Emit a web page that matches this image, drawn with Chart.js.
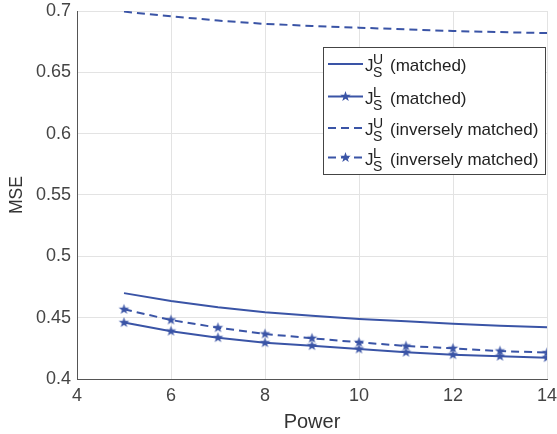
<!DOCTYPE html>
<html>
<head>
<meta charset="utf-8">
<script src="https://cdn.jsdelivr.net/npm/chart.js@4"></script>
<style>
    html, body { margin: 0; padding: 0; background: #fff; }
    canvas { display: block; }
</style>
</head>
<body>
<canvas id="mseChart" width="557" height="434"></canvas>
<script>
// --- Data ---
const powers = [5, 6, 7, 8, 9, 10, 11, 12, 13, 14];
const upperMatched = [0.470, 0.4635, 0.4585, 0.4545, 0.4515, 0.449, 0.447, 0.445, 0.4435, 0.4422];
const lowerMatched = [0.446, 0.439, 0.4337, 0.4296, 0.4272, 0.4245, 0.4218, 0.4198, 0.4185, 0.4174];
const upperInverse = [0.6995, 0.6957, 0.6922, 0.6895, 0.6878, 0.6864, 0.685, 0.6837, 0.6828, 0.682];
const lowerInverse = [0.4568, 0.4481, 0.4418, 0.4367, 0.4332, 0.4299, 0.4269, 0.425, 0.4228, 0.4215];

const xTicks = [4, 6, 8, 10, 12, 14];
const yTickLabels = ['0.4', '0.45', '0.5', '0.55', '0.6', '0.65', '0.7'];

const seriesNames = ['(matched)', '(matched)', '(inversely matched)', '(inversely matched)'];
const seriesSup = ['U', 'L', 'U', 'L'];

const BLUE = '#3a54a6';
const FONT = '"Liberation Sans", Arial, Helvetica, sans-serif';

// filled pentagram marker, like the MATLAB one
function makeStar(radius) {
    const size = Math.ceil(radius * 2 + 2);
    const c = document.createElement('canvas');
    c.width = size;
    c.height = size;
    const g = c.getContext('2d');
    const cx = size / 2, cy = size / 2;
    g.beginPath();
    for (let i = 0; i < 10; i++) {
        const r = i % 2 === 0 ? radius : radius * 0.4;
        const a = -Math.PI / 2 + i * Math.PI / 5;
        const px = cx + r * Math.cos(a);
        const py = cy + r * Math.sin(a);
        if (i === 0) g.moveTo(px, py); else g.lineTo(px, py);
    }
    g.closePath();
    g.fillStyle = BLUE;
    g.fill();
    return c;
}
const star = makeStar(5.5);

function toPoints(values) {
    return powers.map((p, i) => ({ x: p, y: values[i] }));
}

// keep tick labels from pushing the plot area around
function noOverflow(scale) {
    scale.paddingTop = 0;
    scale.paddingBottom = 0;
    scale.paddingLeft = 0;
    scale.paddingRight = 0;
}

// --- Legend with sub/superscripts drawn on the canvas ---
const legendPlugin = {
    id: 'mathLegend',
    afterDraw(chart) {
        const ctx = chart.ctx;
        const box = { x: 323.5, y: 47.5, w: 222, h: 127 };
        ctx.save();
        ctx.fillStyle = '#fff';
        ctx.fillRect(box.x, box.y, box.w, box.h);
        ctx.strokeStyle = '#444';
        ctx.lineWidth = 1;
        ctx.strokeRect(box.x, box.y, box.w, box.h);

        const rows = [64, 96.5, 128, 157.5];
        rows.forEach((ly, i) => {
            ctx.strokeStyle = BLUE;
            ctx.lineWidth = 2;
            ctx.setLineDash(i >= 2 ? [8, 5] : []);
            ctx.beginPath();
            ctx.moveTo(328, ly);
            ctx.lineTo(363, ly);
            ctx.stroke();
            ctx.setLineDash([]);
            if (i % 2 === 1) {
                ctx.drawImage(star, 345.5 - star.width / 2, ly - star.height / 2);
            }
            ctx.fillStyle = '#222';
            ctx.textBaseline = 'alphabetic';
            ctx.textAlign = 'left';
            ctx.font = '17px ' + FONT;
            ctx.fillText('J', 365, ly + 7);
            ctx.font = '14px ' + FONT;
            ctx.fillText(seriesSup[i], 373, ly);
            ctx.fillText('S', 373, ly + 13);
            ctx.font = '17px ' + FONT;
            ctx.fillText(seriesNames[i], 390, ly + 7);
        });
        ctx.restore();
    }
};

const myChart = new Chart(document.getElementById('mseChart'), {
    type: 'line',
    data: {
        datasets: [{
            label: 'J_S^U (matched)',
            data: toPoints(upperMatched),
            borderColor: BLUE,
            borderWidth: 2,
            pointRadius: 0
        }, {
            label: 'J_S^L (matched)',
            data: toPoints(lowerMatched),
            borderColor: BLUE,
            backgroundColor: BLUE,
            borderWidth: 2,
            pointStyle: star,
            pointRadius: 6
        }, {
            label: 'J_S^U (inversely matched)',
            data: toPoints(upperInverse),
            borderColor: BLUE,
            borderWidth: 2,
            borderDash: [8, 5],
            pointRadius: 0
        }, {
            label: 'J_S^L (inversely matched)',
            data: toPoints(lowerInverse),
            borderColor: BLUE,
            backgroundColor: BLUE,
            borderWidth: 2,
            borderDash: [8, 5],
            pointStyle: star,
            pointRadius: 6
        }]
    },
    options: {
        responsive: false,
        animation: false,
        layout: { padding: { top: 11, right: 10, left: 0, bottom: 0 } },
        plugins: {
            legend: { display: false },
            tooltip: { enabled: false }
        },
        scales: {
            x: {
                type: 'linear',
                min: 4,
                max: 14,
                afterFit: (scale) => { scale.height = 55; noOverflow(scale); },
                afterBuildTicks: (scale) => { scale.ticks = xTicks.map(v => ({ value: v })); },
                ticks: {
                    color: '#444',
                    font: { family: FONT, size: 18 },
                    padding: 6,
                    maxRotation: 0,
                    callback: (v) => String(v)
                },
                grid: { color: '#e3e3e3', drawTicks: false },
                border: { color: '#555', width: 1 },
                title: {
                    display: true,
                    text: 'Power',
                    color: '#333',
                    font: { family: FONT, size: 20 },
                    padding: { top: 2, bottom: 0 }
                }
            },
            y: {
                min: 0.4,
                max: 0.7,
                afterFit: (scale) => { scale.width = 77; noOverflow(scale); },
                ticks: {
                    stepSize: 0.05,
                    color: '#444',
                    font: { family: FONT, size: 18 },
                    padding: 6,
                    callback: (v, i) => yTickLabels[i]
                },
                grid: { color: '#e3e3e3', drawTicks: false },
                border: { color: '#555', width: 1 },
                title: {
                    display: true,
                    text: 'MSE',
                    color: '#333',
                    font: { family: FONT, size: 17.5 },
                    padding: { top: 7, bottom: 0 }
                }
            }
        }
    },
    plugins: [legendPlugin]
});
</script>
</body>
</html>
